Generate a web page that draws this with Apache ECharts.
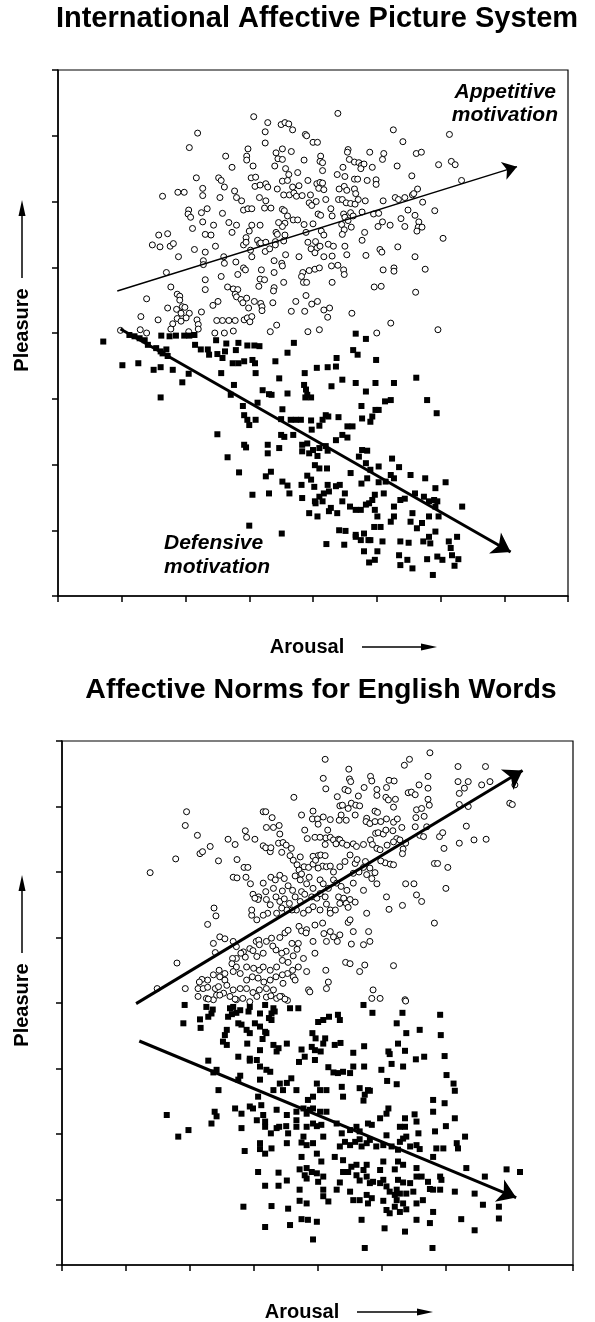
<!DOCTYPE html>
<html>
<head>
<meta charset="utf-8">
<style>
html,body{margin:0;padding:0;background:#fff;}
#chart{width:595px;height:1322px;}
</style>
<script src="https://cdn.jsdelivr.net/npm/echarts@6/dist/echarts.min.js"></script>
</head>
<body>
<div id="chart"></div>
<script>
// ---- Text ----
const titles = ['International Affective Picture System', 'Affective Norms for English Words'];
const xAxisName = 'Arousal';
const yAxisName = 'Pleasure';
const appetitiveLabel = ['Appetitive', 'motivation'];
const defensiveLabel = ['Defensive', 'motivation'];

// ---- Axis scale (9-point SAM ratings; ticks unlabeled) ----
const axisMin = 1, axisMax = 9, axisStep = 1;

// ---- IAPS: pleasant pictures (open circles) [arousal, pleasure] ----
const ipsAppetitive = [
[4.07,8.29],[5.39,8.34],[4.29,8.20],[4.50,8.17],[4.56,8.20],[4.62,8.18],[4.68,8.09],[3.19,8.04],[4.25,8.06],[4.25,7.89],
[4.88,8.02],[4.90,8.00],[5.00,7.90],[5.07,7.90],[6.26,8.09],[7.14,8.02],[6.41,7.91],[3.06,7.82],[3.98,7.80],[3.96,7.69],
[3.96,7.63],[3.63,7.69],[3.73,7.52],[4.06,7.54],[4.42,7.74],[4.52,7.80],[4.66,7.76],[4.45,7.65],[4.52,7.64],[4.40,7.54],
[4.57,7.50],[4.86,7.63],[5.12,7.69],[5.11,7.61],[5.15,7.59],[5.15,7.47],[5.55,7.79],[5.54,7.75],[5.57,7.64],[5.65,7.60],
[5.72,7.59],[5.76,7.55],[5.80,7.57],[5.75,7.50],[5.89,7.75],[5.93,7.52],[6.11,7.73],[6.09,7.64],[6.32,7.54],[6.62,7.73],
[6.70,7.75],[6.97,7.56],[7.17,7.61],[7.23,7.56],[6.55,7.39],[3.17,7.36],[3.52,7.36],[3.56,7.32],[3.61,7.22],[3.27,7.20],
[3.27,7.09],[3.54,7.06],[2.64,7.08],[2.88,7.14],[2.98,7.14],[3.77,7.16],[3.80,7.06],[3.88,7.01],[4.03,7.36],[4.10,7.37],
[4.09,7.23],[4.17,7.25],[4.26,7.27],[4.29,7.22],[4.16,7.06],[4.26,7.01],[4.44,7.19],[4.52,7.31],[4.60,7.32],[4.68,7.22],
[4.78,7.24],[4.54,7.10],[4.63,7.10],[4.70,7.13],[4.74,7.08],[4.76,7.44],[4.62,7.41],[4.92,7.32],[4.83,7.09],[4.96,7.10],
[4.94,6.98],[4.98,6.94],[5.05,7.00],[5.06,7.27],[5.11,7.29],[5.15,7.28],[5.09,7.20],[5.17,7.18],[5.20,7.03],[5.38,7.41],
[5.47,7.52],[5.50,7.38],[5.41,7.19],[5.49,7.23],[5.53,7.17],[5.65,7.34],[5.70,7.34],[5.65,7.19],[5.67,7.12],[5.85,7.32],
[5.99,7.33],[5.99,7.26],[5.40,7.03],[5.46,7.03],[5.52,6.98],[5.59,6.97],[5.66,6.96],[5.71,7.03],[5.82,7.01],[6.10,7.01],
[6.29,7.06],[6.34,7.03],[6.44,7.06],[6.56,7.10],[6.64,7.19],[6.58,7.12],[6.72,6.99],[7.33,7.32],[3.05,6.87],[3.04,6.81],
[3.08,6.76],[3.25,6.83],[3.34,6.89],[3.58,6.82],[3.91,6.87],[3.98,6.89],[4.04,6.89],[4.24,6.90],[4.34,6.90],[4.52,6.88],
[4.55,6.86],[4.60,6.78],[4.69,6.72],[4.76,6.72],[4.56,6.67],[4.52,6.62],[4.46,6.68],[4.56,6.49],[4.42,6.53],[4.44,6.50],
[3.11,6.59],[3.27,6.69],[3.44,6.64],[3.31,6.50],[3.40,6.49],[3.68,6.68],[3.73,6.53],[3.80,6.64],[4.04,6.64],[4.17,6.64],
[3.95,6.45],[4.00,6.55],[2.58,6.49],[2.72,6.51],[4.86,6.65],[4.89,6.53],[5.00,6.66],[5.08,6.81],[5.12,6.79],[5.13,6.55],
[5.17,6.49],[5.28,6.89],[5.30,6.78],[5.48,6.81],[5.50,6.76],[5.55,6.71],[5.59,6.83],[5.63,6.78],[5.77,6.84],[5.45,6.65],
[5.49,6.57],[5.60,6.61],[5.46,6.50],[5.81,6.53],[5.95,6.81],[6.03,6.82],[6.02,6.62],[6.09,6.69],[6.21,6.64],[6.38,6.74],
[6.44,6.62],[6.49,6.87],[6.60,6.79],[6.66,6.69],[6.65,6.61],[6.71,6.61],[6.63,6.55],[6.91,6.86],[7.04,6.44],[2.48,6.34],
[2.60,6.31],[2.76,6.32],[2.81,6.36],[2.89,6.16],[3.14,6.27],[3.31,6.23],[3.47,6.32],[3.60,6.16],[3.61,6.06],[3.28,6.10],
[3.28,6.04],[3.79,6.08],[3.91,6.34],[3.95,6.38],[4.02,6.26],[4.04,6.16],[4.13,6.41],[4.16,6.36],[4.18,6.37],[4.26,6.38],
[4.25,6.24],[4.32,6.28],[4.41,6.39],[4.41,6.34],[4.54,6.40],[4.57,6.19],[4.78,6.16],[4.92,6.38],[5.04,6.39],[5.06,6.29],
[5.11,6.32],[4.97,6.28],[5.03,6.22],[5.17,6.16],[5.24,6.35],[5.32,6.32],[5.30,6.17],[5.50,6.32],[5.53,6.19],[5.83,6.18],
[5.77,6.41],[6.05,6.27],[6.08,6.23],[6.33,6.31],[6.60,6.16],[4.19,5.96],[4.39,6.10],[4.51,6.06],[4.52,6.02],[4.39,5.92],
[3.91,5.99],[3.94,5.96],[3.82,5.89],[3.56,5.86],[2.70,5.92],[4.84,5.92],[4.94,5.95],[5.03,5.97],[5.10,5.99],[5.29,6.02],
[5.39,6.03],[5.48,5.96],[5.49,5.89],[6.10,5.96],[6.27,5.99],[6.27,5.94],[6.76,5.97],[3.31,5.81],[3.31,5.66],[2.77,5.70],
[2.87,5.59],[2.91,5.56],[2.91,5.50],[2.39,5.52],[3.66,5.70],[3.75,5.67],[3.82,5.66],[3.78,5.59],[3.80,5.55],[3.87,5.51],
[3.90,5.46],[3.96,5.53],[4.17,5.82],[4.24,5.81],[4.15,5.71],[4.39,5.69],[4.38,5.64],[4.54,5.77],[4.82,5.86],[4.85,5.77],
[4.90,5.77],[5.30,5.77],[5.96,5.70],[6.07,5.71],[6.61,5.62],[3.51,5.48],[3.43,5.42],[4.08,5.48],[4.18,5.45],[4.20,5.40],
[4.37,5.46],[4.73,5.48],[4.89,5.57],[4.98,5.44],[5.07,5.48],[5.17,5.35],[5.26,5.38],[5.23,5.24],[2.72,5.38],[2.86,5.36],
[2.95,5.40],[2.99,5.39],[2.93,5.30],[3.06,5.30],[3.25,5.32],[3.01,5.23],[2.87,5.22],[2.93,5.18],[2.80,5.14],[2.77,5.06],
[2.30,5.25],[2.57,5.20],[3.18,5.20],[3.20,5.13],[3.20,5.06],[3.58,5.19],[3.49,5.19],[3.68,5.19],[3.78,5.19],[3.92,5.20],
[3.97,5.23],[4.04,5.25],[4.01,5.17],[4.20,5.34],[3.99,5.38],[4.66,5.33],[4.87,5.33],[5.61,5.30],[4.43,5.12],[4.33,5.02],
[3.46,5.00],[3.61,5.00],[3.75,5.03],[3.05,5.02],[2.29,5.05],[2.39,5.00],[4.92,5.02],[5.10,5.05],[6.00,5.00],[6.22,5.15],
[6.96,5.05],[1.98,5.04]
];

// ---- IAPS: unpleasant pictures (filled squares) [arousal, pleasure] ----
const ipsDefensive = [
[1.71,4.87],[2.01,4.51],[2.26,4.54],[2.50,4.44],[2.61,4.48],[2.61,4.02],[2.80,4.44],[2.95,4.25],[3.05,4.38],[2.12,4.97],
[2.20,4.95],[2.28,4.92],[2.36,4.89],[2.41,4.82],[2.54,4.77],[2.61,4.72],[2.64,4.69],[2.70,4.75],[2.72,4.65],[2.62,4.96],
[2.75,4.95],[2.85,4.96],[2.98,4.96],[3.06,4.96],[3.14,4.97],[3.15,4.82],[3.24,4.75],[3.35,4.75],[3.37,4.67],[3.48,4.89],
[3.50,4.68],[3.58,4.62],[3.64,4.84],[3.62,4.72],[3.74,4.54],[3.79,4.74],[3.83,4.85],[3.83,4.54],[3.92,4.57],[3.97,4.81],
[4.08,4.81],[4.16,4.80],[4.05,4.59],[4.09,4.54],[4.10,4.39],[3.56,4.39],[3.76,4.21],[3.71,4.06],[3.90,3.89],[3.92,3.75],
[3.97,3.68],[4.00,3.60],[4.10,3.68],[4.13,3.94],[4.21,4.13],[4.31,4.07],[4.35,4.06],[4.47,4.31],[4.41,4.57],[4.60,4.70],
[4.70,4.85],[4.60,4.08],[4.52,3.84],[4.50,3.69],[4.65,3.68],[4.73,3.68],[4.81,3.68],[4.50,3.45],[4.55,3.42],[4.69,3.45],
[4.86,4.21],[4.89,4.14],[4.91,4.06],[4.88,4.02],[4.97,4.02],[4.87,4.39],[5.06,4.47],[5.23,4.48],[5.36,4.49],[5.37,4.62],
[5.46,4.29],[5.29,4.19],[5.67,4.99],[5.83,4.91],[5.63,4.74],[5.70,4.67],[5.99,4.59],[5.67,4.24],[5.83,4.11],[5.98,4.24],
[6.27,4.24],[6.62,4.32],[6.79,3.98],[6.94,3.78],[6.22,3.98],[6.13,3.96],[6.03,3.83],[5.98,3.83],[5.93,3.73],[5.90,3.65],
[5.76,3.89],[5.77,3.70],[5.54,3.58],[5.62,3.58],[5.46,3.45],[5.54,3.41],[5.40,3.72],[5.36,3.37],[5.24,3.73],[5.20,3.75],
[5.15,3.68],[5.10,3.59],[4.97,3.67],[4.98,3.53],[4.91,3.32],[4.83,3.30],[4.83,3.20],[4.94,3.17],[5.00,3.22],[5.07,3.13],
[5.10,3.25],[5.20,3.28],[5.23,3.21],[5.03,2.99],[5.10,2.94],[5.22,2.94],[4.91,2.83],[4.97,2.77],[4.82,2.69],[5.02,2.66],
[5.10,2.51],[5.15,2.44],[5.23,2.69],[5.36,2.67],[5.42,2.69],[5.25,2.59],[5.17,2.56],[5.28,2.34],[5.38,2.26],[5.46,2.44],
[5.50,2.56],[5.58,2.36],[5.67,2.31],[5.75,2.31],[5.76,2.71],[5.85,2.79],[5.90,2.92],[5.83,3.02],[6.03,2.97],[5.72,3.12],
[5.77,3.22],[5.85,3.21],[5.59,2.87],[6.03,2.73],[6.14,2.74],[6.22,2.84],[6.27,2.79],[6.24,3.09],[6.35,2.96],[6.53,2.84],
[6.11,2.56],[5.97,2.54],[5.93,2.46],[5.88,2.41],[5.83,2.39],[5.97,2.31],[6.01,2.21],[6.06,2.05],[6.22,2.13],[6.27,2.21],
[6.27,2.36],[6.37,2.46],[6.44,2.48],[6.56,2.26],[6.53,2.13],[6.60,2.56],[6.74,2.51],[6.82,2.44],[6.90,2.46],[6.95,2.44],
[6.92,2.36],[6.97,2.21],[7.08,2.73],[6.92,2.64],[7.34,2.36],[6.71,2.11],[6.63,2.03],[6.82,2.21],[6.92,1.98],[6.82,1.90],
[6.73,1.83],[6.84,1.80],[7.13,1.83],[7.16,1.73],[7.26,1.90],[7.18,1.62],[7.28,1.56],[7.22,1.46],[7.03,1.55],[6.95,1.60],
[6.79,1.56],[6.88,1.32],[6.56,1.42],[6.48,1.55],[6.37,1.47],[6.35,1.62],[6.37,1.83],[6.09,1.83],[6.01,1.68],[5.97,1.55],
[5.88,1.51],[5.80,1.68],[5.87,1.85],[5.90,1.85],[5.75,1.85],[5.67,1.93],[5.51,1.99],[5.41,2.00],[5.49,1.78],[5.21,1.79],
[4.94,2.26],[5.07,2.21],[5.03,2.44],[4.83,2.49],[4.63,2.56],[4.52,2.74],[4.60,2.68],[4.47,3.25],[4.34,2.89],[4.26,2.82],
[4.31,2.56],[4.05,2.54],[4.00,2.07],[4.29,3.30],[4.29,3.17],[3.92,3.30],[3.95,3.26],[3.66,3.11],[3.84,2.88],[3.50,3.46],
[4.51,1.95],[5.96,2.05],[5.04,2.41],[5.25,2.29],[5.67,1.90],[5.80,1.95],[6.50,1.81],[6.76,2.79]
];

// ---- ANEW: pleasant words (open circles) [arousal, pleasure] ----
const anewAppetitive = [
[6.76,8.82],[5.12,8.72],[6.44,8.72],[6.36,8.63],[5.49,8.57],[7.20,8.61],[7.63,8.61],[5.09,8.43],[5.50,8.42],[5.52,8.38],
[5.83,8.46],[5.85,8.39],[6.12,8.40],[6.20,8.39],[6.73,8.46],[6.08,8.29],[5.13,8.27],[5.43,8.26],[5.48,8.24],[5.73,8.29],
[5.93,8.26],[6.73,8.28],[6.59,8.33],[7.20,8.38],[7.36,8.38],[7.30,8.28],[7.22,8.20],[7.57,8.33],[7.70,8.38],[8.09,8.33],
[4.63,8.14],[5.31,8.15],[5.64,8.16],[5.93,8.17],[6.07,8.14],[6.11,8.10],[6.22,8.11],[6.42,8.21],[6.47,8.22],[6.53,8.18],
[6.19,7.99],[6.73,8.11],[6.75,8.02],[5.35,8.01],[5.39,8.02],[5.53,8.05],[5.60,8.02],[5.66,8.01],[5.48,7.97],[5.37,7.87],
[5.45,7.79],[5.34,7.79],[5.59,7.87],[5.77,7.82],[5.90,7.93],[5.94,7.91],[5.76,7.77],[5.82,7.74],[5.90,7.77],[5.99,7.77],
[6.08,7.81],[6.19,7.76],[6.25,7.81],[6.55,7.95],[6.63,7.97],[6.54,7.83],[6.67,7.85],[7.22,8.03],[7.36,8.00],[8.01,8.05],
[8.05,8.03],[2.95,7.92],[2.93,7.71],[3.12,7.56],[2.78,7.20],[2.38,6.99],[4.15,7.92],[4.19,7.92],[4.29,7.83],[4.20,7.68],
[4.31,7.68],[4.40,7.71],[4.41,7.58],[3.87,7.63],[3.89,7.53],[3.71,7.42],[3.60,7.50],[4.02,7.50],[3.16,7.28],[3.20,7.31],
[3.32,7.39],[3.45,7.17],[3.74,7.19],[3.85,7.07],[3.91,7.07],[4.15,7.40],[4.19,7.37],[4.26,7.31],[4.27,7.37],[4.39,7.44],
[4.46,7.45],[4.51,7.41],[4.59,7.36],[4.44,7.30],[4.57,7.25],[4.62,7.18],[4.73,7.23],[4.68,7.11],[4.71,7.03],[4.79,7.08],
[4.75,7.87],[4.93,7.93],[4.92,7.81],[5.00,7.81],[5.09,7.84],[5.20,7.80],[5.01,7.73],[5.16,7.64],[5.13,7.52],[5.20,7.53],
[5.25,7.49],[5.33,7.50],[5.35,7.49],[5.39,7.44],[5.29,7.43],[4.80,7.64],[4.84,7.51],[4.96,7.53],[5.04,7.53],[5.12,7.42],
[5.46,7.41],[5.56,7.43],[5.61,7.39],[5.72,7.42],[5.83,7.49],[5.86,7.42],[5.91,7.59],[5.95,7.60],[6.03,7.58],[6.07,7.64],
[6.18,7.63],[6.24,7.51],[6.32,7.68],[6.29,7.49],[5.93,7.36],[5.98,7.34],[6.09,7.41],[6.19,7.46],[6.34,7.35],[6.33,7.28],
[6.38,7.44],[6.53,7.69],[6.60,7.56],[6.66,7.54],[6.71,7.69],[6.91,7.54],[6.96,7.60],[6.98,7.36],[6.83,7.13],[6.88,7.13],
[7.04,7.07],[6.38,6.82],[6.51,6.82],[6.55,6.65],[6.63,6.55],[7.01,6.75],[6.83,6.22],[6.08,6.62],[6.12,6.43],[6.33,6.49],
[7.22,7.44],[7.33,7.70],[7.45,7.49],[7.64,7.50],[3.68,6.92],[3.74,6.91],[3.88,6.92],[3.95,6.82],[4.27,6.92],[4.34,6.88],
[4.41,6.95],[4.48,6.90],[4.54,6.79],[4.65,6.94],[4.73,6.88],[4.75,6.97],[4.87,6.92],[4.86,7.07],[4.93,7.12],[5.01,7.25],
[5.05,7.26],[5.12,7.25],[4.93,7.24],[4.97,7.18],[5.08,7.09],[5.14,7.08],[5.20,7.09],[5.01,7.06],[5.25,7.00],[5.35,7.08],
[5.43,7.16],[5.51,7.26],[5.59,7.13],[5.62,7.19],[5.75,7.16],[5.72,7.07],[5.65,7.00],[5.56,6.98],[5.82,7.06],[5.90,6.99],
[6.06,7.14],[6.14,7.12],[5.99,7.17],[6.19,7.11],[5.77,6.96],[5.85,6.90],[5.25,6.88],[5.30,6.83],[5.37,6.78],[5.46,6.72],
[5.56,6.83],[5.72,6.72],[5.93,6.82],[5.04,6.88],[5.09,6.82],[5.17,6.75],[4.83,6.82],[4.93,6.75],[4.75,6.70],[4.61,6.72],
[4.45,6.71],[4.31,6.75],[4.15,6.83],[4.19,6.70],[4.08,6.62],[4.07,6.58],[3.99,6.66],[4.02,6.60],[4.20,6.58],[4.26,6.50],
[4.35,6.62],[4.41,6.55],[4.48,6.59],[4.56,6.52],[4.65,6.62],[4.73,6.55],[4.80,6.66],[4.91,6.62],[4.99,6.60],[5.04,6.67],
[5.12,6.62],[5.14,6.51],[5.20,6.42],[5.33,6.62],[5.41,6.60],[5.51,6.58],[5.59,6.54],[5.35,6.52],[5.45,6.52],[5.48,6.46],
[5.28,6.42],[5.20,6.37],[5.04,6.42],[4.93,6.47],[4.86,6.42],[4.78,6.37],[4.67,6.42],[4.60,6.42],[4.52,6.42],[4.44,6.45],
[4.36,6.37],[4.22,6.37],[4.15,6.34],[4.05,6.27],[3.97,6.34],[3.97,6.42],[3.38,6.45],[3.41,6.33],[3.28,6.20],[3.47,6.01],
[3.55,5.98],[3.37,5.91],[3.40,5.77],[3.68,5.94],[3.73,5.86],[3.84,5.78],[3.94,5.83],[4.04,5.94],[4.08,5.96],[4.09,5.89],
[4.20,5.94],[4.28,5.99],[4.41,6.00],[4.49,6.07],[4.54,6.11],[4.71,6.17],[4.75,6.10],[4.83,6.12],[4.96,6.19],[5.08,6.22],
[5.10,6.06],[5.20,6.09],[5.25,6.01],[5.35,6.04],[5.48,6.23],[5.51,6.27],[5.56,6.09],[5.77,6.37],[5.80,6.09],[5.82,5.94],
[5.72,5.89],[5.53,5.90],[5.31,5.94],[5.14,5.94],[4.93,5.94],[4.82,6.07],[4.70,5.91],[4.60,5.91],[4.51,5.79],[4.44,5.76],
[4.35,5.81],[4.30,5.87],[4.15,5.76],[4.05,5.71],[3.99,5.80],[3.87,5.70],[3.80,5.76],[3.73,5.68],[3.67,5.68],[3.66,5.60],
[3.73,5.55],[3.89,5.55],[4.00,5.53],[4.09,5.50],[4.15,5.55],[4.26,5.50],[4.36,5.55],[4.45,5.65],[4.54,5.62],[4.62,5.72],
[4.68,5.82],[4.78,5.68],[4.96,5.76],[4.70,5.55],[4.61,5.50],[4.53,5.45],[4.45,5.43],[4.35,5.40],[4.26,5.35],[4.16,5.32],
[4.07,5.38],[3.98,5.40],[3.89,5.35],[3.79,5.45],[3.68,5.48],[3.55,5.45],[3.47,5.40],[3.46,5.50],[3.37,5.43],[3.28,5.35],
[3.19,5.36],[3.15,5.32],[2.93,5.22],[2.80,5.61],[2.49,5.22],[3.13,5.22],[3.21,5.22],[3.28,5.24],[3.40,5.22],[3.45,5.25],
[3.55,5.35],[3.58,5.27],[3.68,5.20],[3.79,5.22],[3.89,5.22],[3.99,5.16],[4.09,5.20],[4.20,5.22],[4.31,5.20],[4.46,5.30],
[4.62,5.40],[4.65,5.35],[4.83,5.48],[4.86,5.20],[4.88,5.17],[5.13,5.50],[5.17,5.32],[5.14,5.22],[5.44,5.62],[5.51,5.60],
[5.66,5.48],[5.74,5.58],[6.19,5.57],[5.87,5.20],[5.98,5.07],[5.85,5.07],[6.37,5.05],[3.13,5.10],[3.26,5.07],[3.37,5.05],
[3.42,5.12],[3.53,5.15],[3.63,5.10],[3.73,5.05],[3.83,5.07],[3.94,5.02],[4.05,5.10],[4.20,5.09],[4.27,5.11],[4.36,5.07],
[4.44,5.10],[4.53,5.04],[3.29,5.06],[3.47,5.12],[3.71,5.06],[4.49,5.06],[4.41,5.10],[6.38,5.03]
];

// ---- ANEW: unpleasant words (filled squares) [arousal, pleasure] ----
const anewDefensive = [
[2.92,4.97],[2.90,4.69],[3.16,4.75],[3.17,4.62],[3.26,4.94],[3.34,4.84],[3.36,4.90],[3.29,4.79],[3.63,4.92],[3.68,4.94],
[3.66,4.83],[3.73,4.85],[3.60,4.79],[3.79,4.89],[3.92,4.87],[3.94,4.94],[4.18,4.97],[4.31,4.92],[4.28,4.84],[4.33,4.87],
[4.28,4.74],[4.24,4.77],[4.10,4.84],[3.76,4.69],[3.81,4.67],[3.89,4.59],[3.94,4.54],[4.02,4.69],[4.10,4.64],[4.18,4.56],
[4.20,4.54],[3.58,4.59],[3.55,4.51],[3.52,4.41],[3.58,4.36],[3.90,4.38],[4.10,4.28],[4.14,4.45],[4.31,4.36],[4.39,4.31],
[4.36,4.26],[4.52,4.38],[4.57,4.92],[4.70,4.92],[5.01,4.71],[5.09,4.74],[5.18,4.79],[5.32,4.82],[5.35,4.74],[5.72,4.97],
[5.86,4.85],[6.33,4.85],[6.24,4.69],[6.92,4.82],[6.60,4.59],[6.39,4.54],[6.93,4.51],[6.26,4.38],[6.11,4.26],[6.13,4.22],
[6.37,4.27],[6.54,4.14],[6.67,4.18],[6.99,4.19],[4.92,4.54],[4.97,4.46],[5.12,4.46],[5.09,4.38],[4.91,4.33],[4.96,4.28],
[5.05,4.26],[5.27,4.36],[5.36,4.39],[5.56,4.24],[5.73,4.34],[4.75,4.29],[4.80,4.18],[4.71,4.10],[4.96,4.13],[5.17,4.02],
[5.25,3.94],[5.32,3.93],[5.40,3.95],[5.51,3.93],[5.56,4.03],[5.73,4.03],[6.00,3.98],[6.16,4.07],[6.34,4.03],[6.09,3.81],
[6.24,3.76],[7.02,3.90],[7.13,3.77],[7.15,3.66],[5.66,3.70],[5.79,3.67],[5.82,3.66],[5.74,3.60],[5.72,3.51],[5.38,3.72],
[5.40,3.57],[5.14,3.67],[4.99,3.77],[5.04,3.67],[4.93,3.57],[4.85,3.52],[4.67,3.67],[4.59,3.85],[4.52,3.78],[4.41,3.77],
[4.46,3.67],[4.31,3.67],[4.20,3.98],[4.26,3.95],[4.10,4.03],[4.10,3.83],[4.05,4.13],[3.94,4.15],[3.94,4.12],[3.76,4.18],
[3.29,4.12],[3.42,3.98],[3.37,3.94],[3.79,3.89],[3.76,3.83],[3.45,3.67],[4.07,3.57],[3.94,3.42],[3.71,3.39],[3.81,3.31],
[3.39,3.34],[3.42,3.27],[3.34,3.16],[2.64,3.29],[2.82,2.96],[2.98,3.06],[3.81,3.09],[3.99,3.39],[4.05,3.21],[4.15,3.29],
[4.18,3.19],[4.12,3.44],[4.18,3.11],[4.27,3.01],[4.36,3.37],[4.52,3.29],[4.51,3.12],[4.67,3.34],[4.67,3.21],[4.78,3.39],
[4.83,3.31],[4.88,3.37],[4.93,3.39],[5.04,3.34],[5.14,3.34],[4.67,3.11],[4.83,3.11],[4.93,3.16],[4.99,3.12],[5.06,3.14],
[5.09,2.96],[4.93,2.86],[4.83,2.83],[4.78,2.96],[4.75,2.87],[4.52,2.86],[4.36,3.09],[4.40,3.11],[4.54,3.01],[4.10,2.86],
[4.10,2.77],[4.18,2.70],[4.28,2.78],[3.86,2.74],[4.07,2.42],[4.39,2.41],[4.52,2.29],[4.39,2.21],[4.18,2.21],[4.75,2.65],
[4.83,2.48],[4.72,2.46],[4.80,2.37],[4.91,2.42],[4.83,2.32],[4.99,2.40],[5.01,2.27],[5.09,2.35],[4.72,2.15],[4.72,1.98],
[4.83,1.94],[5.09,2.05],[5.09,2.15],[5.17,1.97],[5.30,2.15],[5.35,2.26],[5.40,2.42],[5.48,2.42],[5.53,2.50],[5.61,2.53],
[5.72,2.45],[5.61,2.37],[5.66,2.29],[5.77,2.35],[5.82,2.25],[5.87,2.27],[5.98,2.25],[6.08,2.20],[6.03,2.30],[5.35,2.81],
[5.43,2.88],[5.51,2.83],[5.59,2.88],[5.66,2.92],[5.69,2.81],[5.77,2.86],[5.82,2.91],[5.92,2.81],[6.03,2.83],[6.08,2.98],
[6.16,2.81],[6.26,2.76],[6.29,2.88],[6.34,2.93],[6.39,2.96],[6.45,2.81],[6.55,2.83],[6.60,2.77],[5.30,3.16],[5.38,3.01],
[5.51,3.06],[5.61,3.11],[5.66,3.04],[5.79,3.16],[5.85,3.14],[5.98,3.24],[6.08,3.31],[6.11,3.39],[6.29,3.11],[6.37,3.24],
[6.55,3.19],[6.52,3.30],[6.37,3.11],[6.58,3.01],[6.81,3.34],[6.84,3.04],[6.81,3.52],[6.99,3.47],[7.01,3.12],[7.15,3.24],
[7.31,2.96],[7.18,2.86],[7.20,2.78],[6.86,2.78],[6.97,2.78],[6.81,2.65],[6.92,2.35],[6.94,2.30],[6.92,2.15],[6.76,2.16],
[6.73,2.27],[6.55,2.48],[6.63,2.35],[6.45,2.25],[6.34,2.26],[6.34,2.53],[6.26,2.58],[6.21,2.46],[6.03,2.58],[5.98,2.45],
[5.77,2.53],[5.40,2.60],[5.27,2.65],[5.06,2.58],[4.99,2.70],[5.51,2.12],[5.56,1.99],[5.66,1.99],[5.77,2.07],[5.79,1.94],
[5.85,2.02],[6.03,1.98],[6.13,2.12],[6.21,2.07],[6.24,1.99],[6.29,2.09],[6.39,2.09],[6.55,1.94],[6.65,1.99],[6.08,1.84],
[6.13,1.79],[6.21,1.89],[6.29,1.81],[6.39,1.85],[6.34,1.94],[6.24,2.15],[6.50,2.12],[6.26,2.30],[6.55,2.35],[6.81,2.15],
[6.81,1.81],[6.76,1.64],[6.55,1.69],[6.37,1.51],[6.05,1.56],[5.69,1.69],[5.74,1.26],[6.80,1.26],[7.15,2.12],[7.33,2.48],
[7.46,2.09],[7.59,1.92],[7.62,2.35],[7.84,1.89],[7.84,1.71],[7.46,1.53],[7.25,1.70],[7.96,2.46],[8.17,2.42],[4.93,1.39],
[4.85,1.69],[4.99,1.66],[4.75,1.70],[4.57,1.61],[4.18,1.58],[4.28,1.90],[4.54,1.86],[3.84,1.89]
];

// ---- Trend arrows [start, end] in data units ----
const ipsAppetitiveTrend = [[1.93,5.64],[8.20,7.53]];
const ipsDefensiveTrend = [[1.98,5.06],[8.10,1.67]];
const anewAppetitiveTrend = [[2.16,4.99],[8.21,8.55]];
const anewDefensiveTrend = [[2.21,4.42],[8.11,2.03]];

const FONT = '"Liberation Sans", Arial, Helvetica, sans-serif';

function makeXAxis(gridIndex){
  return {
    type:'value', gridIndex:gridIndex, min:axisMin, max:axisMax, interval:axisStep,
    axisLine:{show:true, lineStyle:{color:'#000', width:1.5}},
    axisTick:{show:true, inside:false, length:6, lineStyle:{color:'#000', width:1.5}},
    axisLabel:{show:false}, splitLine:{show:false}
  };
}
function makeYAxis(gridIndex){
  return {
    type:'value', gridIndex:gridIndex, min:axisMin, max:axisMax, interval:axisStep,
    axisLine:{show:true, lineStyle:{color:'#000', width:1.5}},
    axisTick:{show:true, inside:false, length:6, lineStyle:{color:'#000', width:1.5}},
    axisLabel:{show:false}, splitLine:{show:false}
  };
}
function circles(data, idx){
  return {type:'scatter', xAxisIndex:idx, yAxisIndex:idx, data:data, symbol:'circle', symbolSize:6,
    itemStyle:{color:'#fff', borderColor:'#000', borderWidth:1, opacity:1}, z:2, animation:false, silent:true};
}
function squares(data, idx){
  return {type:'scatter', xAxisIndex:idx, yAxisIndex:idx, data:data, symbol:'rect', symbolSize:6,
    itemStyle:{color:'#000', opacity:1}, z:2, animation:false, silent:true};
}
function trend(coords, idx, width, head){
  return {type:'lines', coordinateSystem:'cartesian2d', xAxisIndex:idx, yAxisIndex:idx,
    data:[{coords:coords}], lineStyle:{color:'#000', width:width, opacity:1, curveness:0},
    symbol:['none','arrow'], symbolSize:head, z:5, animation:false, silent:true};
}
function txt(text, x, y, size, opts){
  opts = opts || {};
  return {type:'text', x:x, y:y, rotation:opts.rotation||0, z:10, silent:true,
    style:{text:text, x:0, y:0, fill:'#000', font:(opts.italic?'italic ':'')+'bold '+size+'px '+FONT,
      textAlign:opts.align||'center', textVerticalAlign:'middle', align:opts.align||'center', verticalAlign:'middle'}};
}
function hArrow(x1, x2, y){
  return [
    {type:'line', shape:{x1:x1, y1:y, x2:x2-12, y2:y}, style:{stroke:'#000', lineWidth:1.5}, silent:true},
    {type:'polygon', shape:{points:[[x2-16,y-3.5],[x2,y],[x2-16,y+3.5]]}, style:{fill:'#000'}, silent:true}
  ];
}
function vArrow(x, y1, y2){ // y2 is the tip (above)
  return [
    {type:'line', shape:{x1:x, y1:y1, x2:x, y2:y2+12}, style:{stroke:'#000', lineWidth:1.5}, silent:true},
    {type:'polygon', shape:{points:[[x-3.5,y2+16],[x,y2],[x+3.5,y2+16]]}, style:{fill:'#000'}, silent:true}
  ];
}

const chart = echarts.init(document.getElementById('chart'), null, {renderer:'canvas'});
const option = {
  backgroundColor:'#fff',
  animation:false,
  grid:[
    {left:58, top:70, width:510, height:526, show:true, borderColor:'#000', borderWidth:1.2, backgroundColor:'transparent'},
    {left:62, top:741, width:511, height:524, show:true, borderColor:'#000', borderWidth:1.2, backgroundColor:'transparent'}
  ],
  xAxis:[makeXAxis(0), makeXAxis(1)],
  yAxis:[makeYAxis(0), makeYAxis(1)],
  series:[
    circles(ipsAppetitive, 0),
    squares(ipsDefensive, 0),
    trend(ipsAppetitiveTrend, 0, 1.5, 14),
    trend(ipsDefensiveTrend, 0, 3, 18),
    circles(anewAppetitive, 1),
    squares(anewDefensive, 1),
    trend(anewAppetitiveTrend, 1, 3, 18),
    trend(anewDefensiveTrend, 1, 3, 18)
  ],
  graphic:[].concat(
    [txt(titles[0], 317, 19, 29), txt(titles[1], 321, 690, 28.5)],
    [txt(appetitiveLabel[0], 556, 92, 21, {italic:true, align:'right'}),
     txt(appetitiveLabel[1], 558, 115, 21, {italic:true, align:'right'})],
    [txt(defensiveLabel[0], 164, 543, 21, {italic:true, align:'left'}),
     txt(defensiveLabel[1], 164, 567, 21, {italic:true, align:'left'})],
    [txt(xAxisName, 307, 647, 20)], hArrow(362, 437, 647),
    [txt(xAxisName, 302, 1312, 20)], hArrow(357, 433, 1312),
    [txt(yAxisName, 22, 330, 20, {rotation:Math.PI/2})], vArrow(22, 278, 200),
    [txt(yAxisName, 22, 1005, 20, {rotation:Math.PI/2})], vArrow(22, 953, 875)
  )
};
chart.setOption(option);
</script>
</body>
</html>
